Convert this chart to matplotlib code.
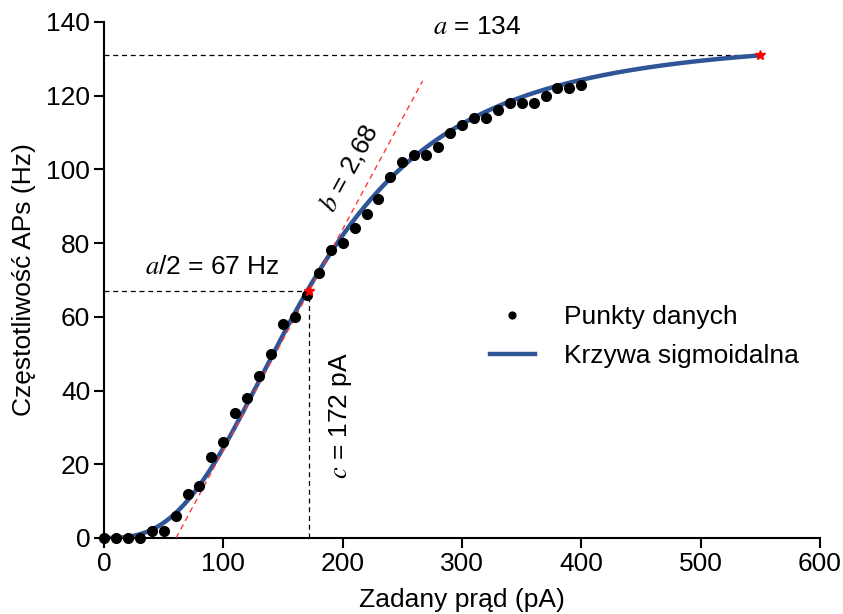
import numpy as np
import matplotlib
matplotlib.use("Agg")
import matplotlib.pyplot as plt

plt.rcParams['font.family'] = ['Liberation Sans', 'DejaVu Sans']
plt.rcParams['mathtext.fontset'] = 'stix'

# ---- data ----
current_pA = [0, 10, 20, 30, 40, 50, 60, 70, 80, 90, 100, 110, 120, 130, 140,
              150, 160, 170, 180, 190, 200, 210, 220, 230, 240, 250, 260, 270,
              280, 290, 300, 310, 320, 330, 340, 350, 360, 370, 380, 390, 400]
freq_Hz = [0, 0, 0, 0, 2, 2, 6, 12, 14, 22, 26, 34, 38, 44, 50,
           58, 60, 66, 72, 78, 80, 84, 88, 92, 98, 102, 104, 104,
           106, 110, 112, 114, 114, 116, 118, 118, 118, 120, 122, 122, 123]

# labelled fit parameters
param_a = 134
param_b_label = "2,68"
param_c = 172
# parameters of the drawn sigmoid curve (Hill form), as it appears
curve_amp = 136
curve_n = 2.8
curve_xmax = 550
tangent_slope = 0.6
tangent_top = 124

xticks = [0, 100, 200, 300, 400, 500, 600]
yticks = [0, 20, 40, 60, 80, 100, 120, 140]


def sigmoid(x):
    x = np.asarray(x, dtype=float)
    return curve_amp * x**curve_n / (param_c**curve_n + x**curve_n)


FS = 19

fig = plt.figure(figsize=(8.43, 6.14), dpi=100)
ax = fig.add_axes([0.1234, 0.1238, 0.9727 - 0.1234, 0.9642 - 0.1238])

blue = '#2F5597'
xc = np.linspace(0, curve_xmax, 400)
yc = sigmoid(xc)
y_end = float(sigmoid(curve_xmax))
half = param_a / 2

# dashed guide lines
ax.plot([0, curve_xmax], [y_end, y_end], color='black', lw=0.9, ls=(0, (4, 3)), zorder=2)
ax.plot([0, param_c], [half, half], color='black', lw=0.9, ls=(0, (4, 3)), zorder=2)
ax.plot([param_c, param_c], [0, half], color='black', lw=0.9, ls=(0, (4, 3)), zorder=2)

# tangent line
x0 = param_c - half / tangent_slope
x1 = param_c + (tangent_top - half) / tangent_slope
ax.plot([x0, x1], [0, tangent_top], color='#FF3A3A', lw=1.0, ls=(0, (4, 3)), zorder=4)

ax.plot(xc, yc, color=blue, lw=3.2, label='Krzywa sigmoidalna', zorder=3)
ax.plot(current_pA, freq_Hz, 'o', color='black', ms=7, ls='none',
        label='Punkty danych', zorder=5, clip_on=False)

ax.plot([param_c, curve_xmax], [half, y_end], ls='none', marker='*', color='red',
        ms=7, zorder=6)

# annotations
ax.text(313, 138.6, r'$a$ = ' + str(param_a), fontsize=FS, ha='center', va='center')
ax.text(91, 73.4, r'$a$/2 = ' + f'{param_a // 2} Hz', fontsize=FS, ha='center', va='center')
ax.text(198, 33.3, r'$c$ = ' + f'{param_c} pA', fontsize=FS, ha='center', va='center',
        rotation=90)
ax.text(205, 100.5, r'$b$ = ' + param_b_label, fontsize=FS, ha='center', va='center',
        rotation=61.5)

ax.set_xlim(0, 600)
ax.set_ylim(0, 140)
ax.set_xticks(xticks)
ax.set_yticks(yticks)
ax.tick_params(axis='both', labelsize=FS, direction='out', length=7, width=1.5, pad=3)
for s in ['top', 'right']:
    ax.spines[s].set_visible(False)
for s in ['left', 'bottom']:
    ax.spines[s].set_linewidth(1.5)

ax.set_xlabel('Zadany prąd (pA)', fontsize=FS, labelpad=9)
ax.set_ylabel('Częstotliwość APs (Hz)', fontsize=FS, labelpad=7)

h, l = ax.get_legend_handles_labels()
order = [1, 0]
leg = ax.legend([h[i] for i in order], [l[i] for i in order], frameon=False,
                fontsize=FS, loc='center left', bbox_to_anchor=(0.506, 0.39),
                handlelength=1.7, handletextpad=1.1, labelspacing=0.55, markerscale=0.7)

fig.savefig('out.png', dpi=100)
